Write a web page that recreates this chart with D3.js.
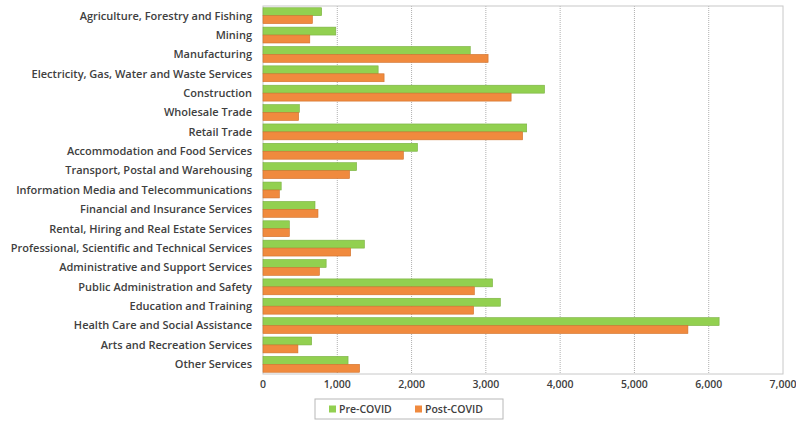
<!DOCTYPE html>
<html>
<head>
<meta charset="utf-8">
<script src="https://cdn.jsdelivr.net/npm/d3@7"></script>
<style>
  body { margin: 0; background: #fff; }
  text { font-family: "Open Sans", sans-serif; fill: #404040; }
</style>
</head>
<body>
<div id="chart"></div>
<script>
let categories = [
  "Agriculture, Forestry and Fishing",
  "Mining",
  "Manufacturing",
  "Electricity, Gas, Water and Waste Services",
  "Construction",
  "Wholesale Trade",
  "Retail Trade",
  "Accommodation and Food Services",
  "Transport, Postal and Warehousing",
  "Information Media and Telecommunications",
  "Financial and Insurance Services",
  "Rental, Hiring and Real Estate Services",
  "Professional, Scientific and Technical Services",
  "Administrative and Support Services",
  "Public Administration and Safety",
  "Education and Training",
  "Health Care and Social Assistance",
  "Arts and Recreation Services",
  "Other Services"
];
let preCovid = [790, 980, 2790, 1550, 3790, 490, 3550, 2080, 1260, 245, 700, 355, 1365, 850, 3090, 3195, 6140, 655, 1145];
let postCovid = [665, 630, 3030, 1630, 3340, 480, 3495, 1890, 1165, 220, 740, 355, 1180, 760, 2845, 2835, 5720, 470, 1300];
let seriesNames = ["Pre-COVID", "Post-COVID"];
let xTicks = [0, 1000, 2000, 3000, 4000, 5000, 6000, 7000];

let colors = ["#92d050", "#f08a3e"];
let strokes = ["#79b040", "#d0702a"];

let width = 796, height = 421;
let margin = {top: 6, right: 13, bottom: 47, left: 263};

let svg = d3.select("#chart").append("svg")
  .attr("width", width)
  .attr("height", height);

let x = d3.scaleLinear()
  .domain([0, 7000])
  .range([margin.left, width - margin.right]);

let y = d3.scaleBand()
  .domain(categories)
  .range([margin.top, height - margin.bottom])
  .paddingInner(0.18)
  .paddingOuter(0.09);

let ySub = d3.scaleBand()
  .domain(seriesNames)
  .range([0, y.bandwidth()]);

// gridlines
svg.append("g")
  .selectAll("line")
  .data(xTicks.slice(1, -1))
  .enter().append("line")
  .attr("x1", d => x(d)).attr("x2", d => x(d))
  .attr("y1", margin.top).attr("y2", height - margin.bottom)
  .attr("stroke", "#b0b0b0")
  .attr("stroke-width", 1)
  .attr("stroke-dasharray", "1,1");

// plot frame
svg.append("rect")
  .attr("x", margin.left)
  .attr("y", margin.top)
  .attr("width", x(7000) - margin.left)
  .attr("height", height - margin.bottom - margin.top)
  .attr("fill", "none")
  .attr("stroke", "#c8c8c8");

let data = categories.map((c, i) => ({cat: c, values: [preCovid[i], postCovid[i]]}));

let groups = svg.append("g")
  .selectAll("g")
  .data(data)
  .enter().append("g")
  .attr("transform", d => "translate(0," + y(d.cat) + ")");

groups.selectAll("rect")
  .data(d => d.values.map((v, j) => ({name: seriesNames[j], value: v, j: j})))
  .enter().append("rect")
  .attr("x", x(0))
  .attr("y", d => ySub(d.name))
  .attr("width", d => x(d.value) - x(0))
  .attr("height", ySub.bandwidth())
  .attr("fill", d => colors[d.j])
  .attr("stroke", d => strokes[d.j])
  .attr("stroke-width", 0.6);

// category labels
svg.append("g")
  .selectAll("text")
  .data(categories)
  .enter().append("text")
  .attr("x", margin.left - 11)
  .attr("y", d => y(d) + y.bandwidth() / 2)
  .attr("dy", "0.35em")
  .attr("text-anchor", "end")
  .style("font-size", "11px")
  .style("font-weight", "600")
  .text(d => d);

// x axis labels
svg.append("g")
  .selectAll("text")
  .data(xTicks)
  .enter().append("text")
  .attr("x", d => x(d))
  .attr("y", height - margin.bottom + 14)
  .attr("text-anchor", "middle")
  .style("font-size", "10.5px")
  .style("font-weight", "600")
  .text(d => d3.format(",")(d));

// legend
let legend = svg.append("g").attr("transform", "translate(315,399)");
legend.append("rect")
  .attr("width", 188).attr("height", 20)
  .attr("fill", "#fff")
  .attr("stroke", "#b8b8b8");

let legendX = [14, 100];
seriesNames.forEach((s, i) => {
  legend.append("rect")
    .attr("x", legendX[i]).attr("y", 6.5)
    .attr("width", 7).attr("height", 7)
    .attr("fill", colors[i]);
  legend.append("text")
    .attr("x", legendX[i] + 10).attr("y", 10)
    .attr("dy", "0.35em")
    .style("font-size", "10.5px")
    .style("font-weight", "600")
    .text(s);
});
</script>
</body>
</html>
